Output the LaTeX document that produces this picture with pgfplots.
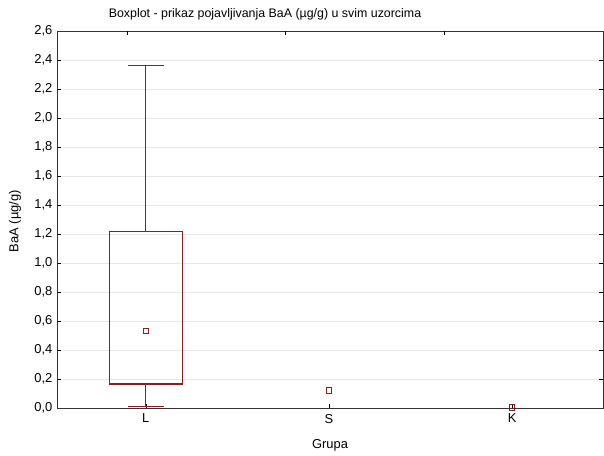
\documentclass[border=0pt]{standalone}
\usepackage{pgfplots}
\pgfplotsset{compat=1.18}
\usepackage{fontspec}
\setmainfont{Liberation Sans}
\definecolor{boxred}{RGB}{140,30,30}
\definecolor{gridc}{RGB}{232,232,232}
\begin{document}
\begin{tikzpicture}[x=0.75pt,y=0.75pt]
\useasboundingbox (-57,-47) rectangle (547,408);
\begin{axis}[
  at={(0,0)}, anchor=south west,
  scale only axis, width=409.5pt, height=282.75pt,
  xmin=0.515, xmax=3.496, ymin=0, ymax=2.6,
  xtick={1,2,3}, xticklabels={L,S,K},
  xtick pos=bottom,
  ytick={0,0.2,...,2.6},
  ytick pos=both,
  tick align=inside,
  major tick length=3pt,
  tick style={black, line width=0.5pt},
  ymajorgrids, grid style={gridc, line width=0.6pt},
  axis line style={black!80, line width=0.7pt},
  font=\fontsize{9.7}{11}\selectfont,
  /pgf/number format/assume math mode=true,
  yticklabel style={/pgf/number format/.cd, fixed, fixed zerofill, precision=1, use comma},
  scaled y ticks=false,
  xticklabel style={yshift=-1pt},
  clip=false,
]
% box L (quartiles)
\addplot[draw=boxred, line width=0.9pt, mark=none] coordinates {(0.8,0.166) (1.2,0.166) (1.2,1.22) (0.8,1.22) (0.8,0.166)};
% whiskers
\addplot[draw=boxred, line width=0.9pt, mark=none] coordinates {(1,1.22) (1,2.36)};
\addplot[draw=boxred, line width=0.9pt, mark=none] coordinates {(0.9,2.36) (1.1,2.36)};
\addplot[draw=boxred, line width=0.9pt, mark=none] coordinates {(1,0.166) (1,0.01)};
\addplot[draw=boxred, line width=0.9pt, mark=none] coordinates {(0.9,0.01) (1.1,0.01)};
% means
\addplot[only marks, mark=square, mark size=2.1pt, mark options={draw=boxred, line width=0.8pt, fill=white}]
  coordinates {(1,0.53) (2,0.12) (3,0.005)};
\end{axis}
\begin{axis}[
  at={(0,0)}, anchor=south west,
  scale only axis, width=409.5pt, height=282.75pt,
  xmin=0.515, xmax=3.496, ymin=0, ymax=2.6,
  axis lines=none, ytick=\empty,
  xtick={0.896,1.757,2.624},
  xticklabels={},
]
\end{axis}
\node[font=\fontsize{9.3}{11}\selectfont] at (208,394) {Boxplot - prikaz pojavljivanja BaA (µg/g) u svim uzorcima};
\node[font=\fontsize{9.7}{11}\selectfont, rotate=90] at (-42,187) {BaA (µg/g)};
\node[font=\fontsize{9.7}{11}\selectfont] at (273,-37) {Grupa};
\foreach \xx in {70,228,387} {\draw[black, line width=0.5pt] (\xx,377) -- (\xx,373);}
\end{tikzpicture}
\end{document}
